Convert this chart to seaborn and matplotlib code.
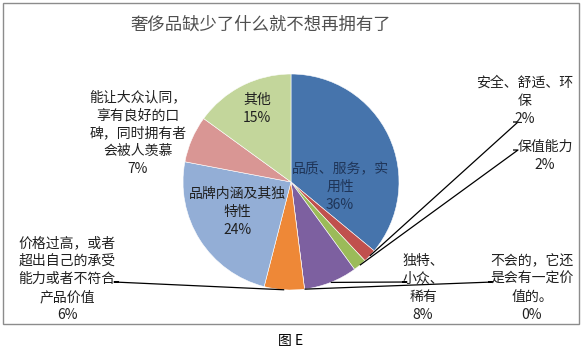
import matplotlib
matplotlib.use("Agg")
import matplotlib.pyplot as plt
import matplotlib.patches as mpatches
import numpy as np
import seaborn as sns

sns.set_theme(style="white")
plt.rcParams['font.family'] = ['Noto Sans CJK SC', 'DejaVu Sans']

W, H = 582, 359

title = "奢侈品缺少了什么就不想再拥有了"
caption = "图 E"

labels = [
    "品质、服务，实\n用性",
    "安全、舒适、环\n保",
    "保值能力",
    "独特、\n小众、\n稀有",
    "不会的，它还\n是会有一定价\n值的。",
    "价格过高，或者\n超出自己的承受\n能力或者不符合\n产品价值",
    "品牌内涵及其独\n特性",
    "能让大众认同，\n享有良好的口\n碑，同时拥有者\n会被人羡慕",
    "其他",
]
values = [36, 2, 2, 8, 0, 6, 24, 7, 15]
colors = ["#4674AC", "#C0504D", "#9BBB59", "#7D60A0", "#4BACC6",
          "#EE8837", "#93AED6", "#D99694", "#C3D69B"]

# label centre (pixels), leader anchor (pixels) or None
label_pos = [(340, 187), (525, 101), (545, 156), (423, 288), (532, 288),
             (67, 279), (237, 212), (138, 133), (257, 109)]
leader_anchor = [None, (513, 122), (513, 150), (402, 282), (488, 282),
                 (119, 282), None, None, None]
text_colors = ["#1F3558", "#202020", "#202020", "#202020", "#202020",
               "#202020", "#202020", "#202020", "#202020"]

fig = plt.figure(figsize=(W / 100, H / 100), dpi=100)
ax = fig.add_axes([0, 0, 1, 1])

# chart frame
ax.add_patch(mpatches.Rectangle((3, H - 324), 576, 321, fill=False,
                                edgecolor="#8C8C8C", lw=1.0))

wedges, _ = ax.pie(values, colors=colors, startangle=90, counterclock=False,
                   center=(291, H - 182), radius=108, frame=True,
                   wedgeprops=dict(edgecolor="white", linewidth=0.4))
ax.set_xlim(0, W)
ax.set_ylim(0, H)
ax.axis("off")

for i, w in enumerate(wedges):
    txt = f"{labels[i]}\n{values[i]}%"
    x, y = label_pos[i]
    ax.text(x, H - y, txt, ha="center", va="center", fontsize=10,
            linespacing=1.36, color=text_colors[i])
    if leader_anchor[i] is not None:
        mid = np.deg2rad((w.theta1 + w.theta2) / 2)
        cx, cy = w.center
        px, py = cx + w.r * np.cos(mid), cy + w.r * np.sin(mid)
        ax_, ay_ = leader_anchor[i]
        step = -5 if ax_ < cx else 5
        ax.plot([px, ax_ + step, ax_], [py, H - ay_, H - ay_],
                color="black", lw=0.9, solid_capstyle="butt")

ax.text(261, H - 25, title, ha="center", va="center", fontsize=12.5,
        color="#505050")
ax.text(291, H - 341, caption, ha="center", va="center", fontsize=10,
        color="black")

fig.savefig("out.png", dpi=100)
